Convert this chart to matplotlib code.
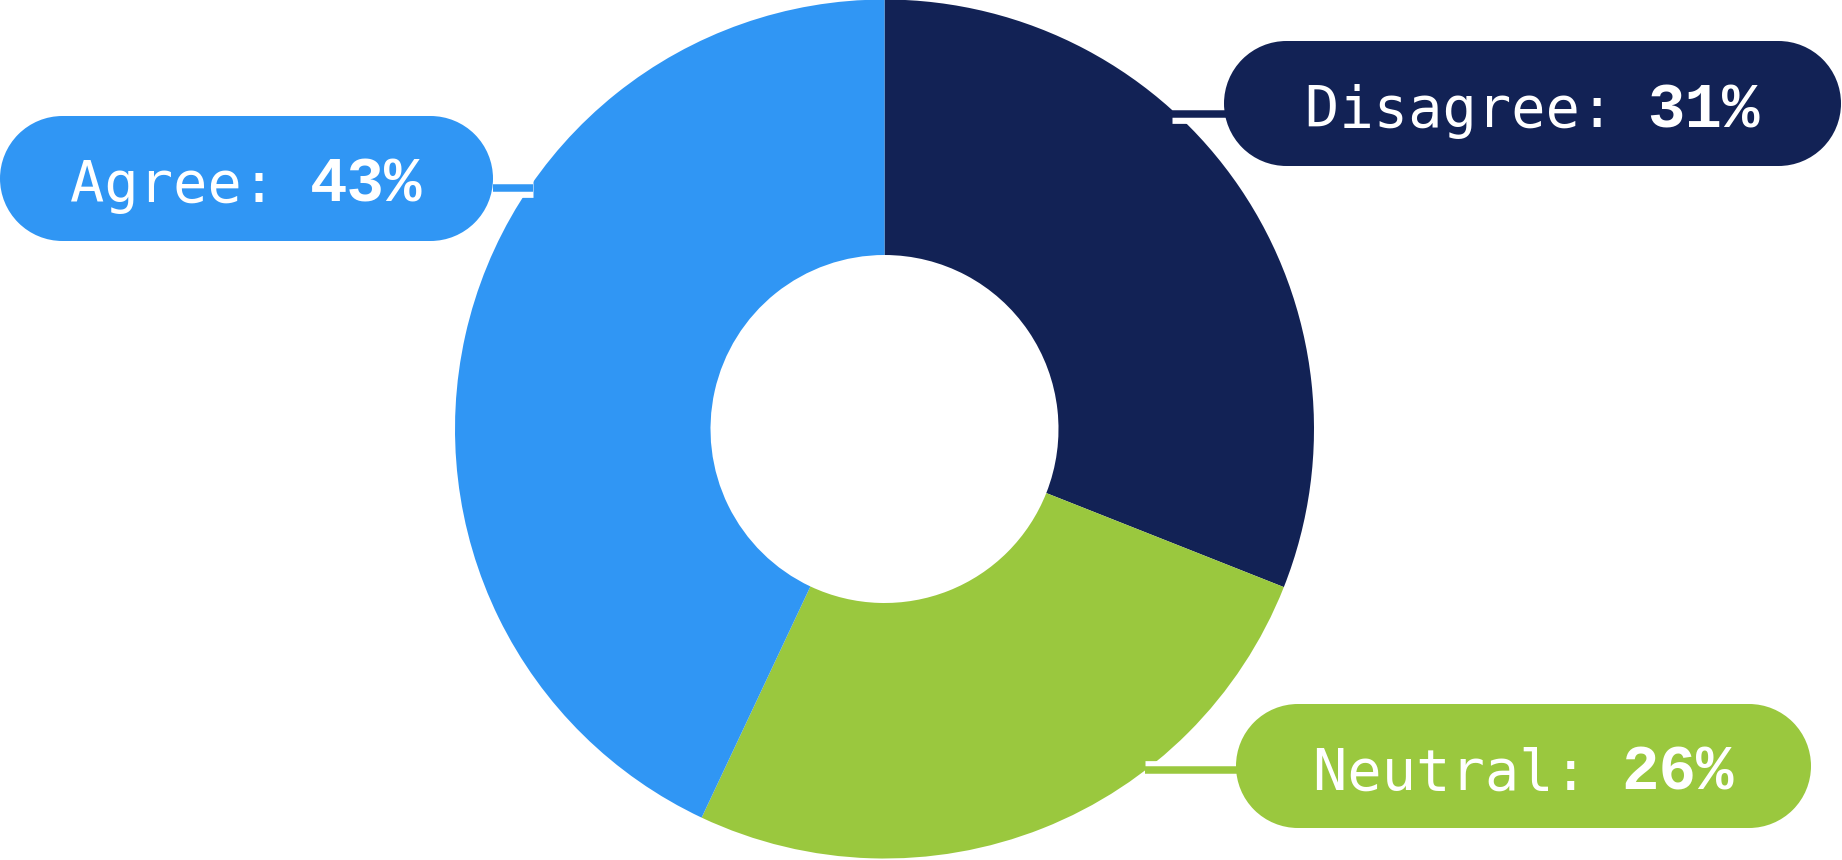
import matplotlib.pyplot as plt
import matplotlib.patheffects as pe
from matplotlib.patches import Rectangle, Circle

W, H = 1842, 860

# slice order as drawn, clockwise from 12 o'clock
labels = ['Disagree', 'Neutral', 'Agree']
shares = [31, 26, 43]
colors = ['#122255', '#9AC83E', '#3096F4']

# label pills in pixel coords (left, top, right, bottom) and leader line (x0, x1, y)
pills = {
    'Agree':    (0, 116, 493, 241),
    'Disagree': (1224, 41, 1841, 166),
    'Neutral':  (1236, 704, 1811, 828),
}
leaders = {
    'Agree':    (533, 493, 188),
    'Disagree': (1172, 1240, 113.5),
    'Neutral':  (1145, 1250, 769.5),
}

LABEL_FONT, LABEL_SIZE = 'DejaVu Sans Mono', 41
VALUE_FONT, VALUE_SIZE = 'Liberation Mono', 45


def pill(ax, left, top, right, bottom, col):
    # rectangle with two half-circle ends
    r = (bottom - top) / 2
    yc = H - (top + bottom) / 2
    ax.add_patch(Rectangle((left + r, yc - r), right - left - 2 * r, 2 * r,
                           facecolor=col, edgecolor='none', zorder=4))
    for xc in (left + r, right - r):
        ax.add_patch(Circle((xc, yc), r, facecolor=col, edgecolor='none', zorder=4))


fig = plt.figure(figsize=(W / 100, H / 100), dpi=100)
ax = fig.add_axes([0, 0, 1, 1])

cx, cy, r_out, r_in = 884.5, H - 429, 429.5, 174
ax.pie(shares, colors=colors, startangle=90, counterclock=False,
       center=(cx, cy), radius=r_out,
       wedgeprops=dict(width=r_out - r_in, linewidth=0))

for lab, col, share in zip(labels, colors, shares):
    x0, x1, y = leaders[lab]
    ax.plot([x0, x1], [H - y, H - y], color=col, lw=5.4, solid_capstyle='butt',
            zorder=3, path_effects=[pe.Stroke(linewidth=13.5, foreground='white',
                                              capstyle='butt'), pe.Normal()])

    left, top, right, bottom = pills[lab]
    pill(ax, left, top, right, bottom, col)

    # both fonts are monospace, so widths follow from the advance (1 data unit = 1 px)
    head = f'{lab}: '
    val = f'{share}%'
    head_w = len(head) * 0.602 * LABEL_SIZE * 100 / 72
    val_w = len(val) * 0.600 * VALUE_SIZE * 100 / 72
    x_start = (left + right) / 2 - (head_w + val_w) / 2
    ty = H - ((top + bottom) / 2 + 23.5)
    ax.text(x_start, ty, head, family=LABEL_FONT, fontsize=LABEL_SIZE,
            color='white', ha='left', va='baseline', zorder=5)
    ax.text(x_start + head_w, ty, val, family=VALUE_FONT, fontsize=VALUE_SIZE,
            fontweight='bold', color='white', ha='left', va='baseline', zorder=5)

ax.set_xlim(0, W)
ax.set_ylim(0, H)
ax.set_aspect('equal')
ax.axis('off')

fig.savefig('out.png', dpi=100, facecolor='white')
